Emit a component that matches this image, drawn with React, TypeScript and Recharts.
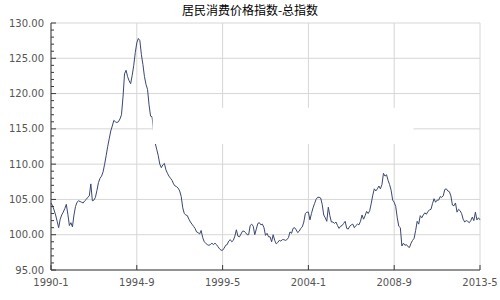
import React from 'react';
import { LineChart, Line, XAxis, YAxis, CartesianGrid, ReferenceArea } from 'recharts';

const chartTitle = '居民消费价格指数-总指数';

// Monthly CPI (same month of previous year = 100), 1990-1 .. 2013-5
const cpi1990s: number[] = [
  104.5, 104.1, 103.5, 102.8, 101.9, 101.0, 102.2, 102.8, 103.2, 103.7, 104.3, 102.9,
  101.3, 101.7, 101.1, 102.8, 104.0, 104.6, 104.8, 104.7, 104.6, 104.5, 104.8, 105.0,
  105.3, 105.5, 107.2, 104.8, 104.9, 105.3, 106.3, 107.4, 108.0, 108.3, 108.9, 110.0,
  111.2, 112.5, 113.6, 114.7, 115.4, 116.2, 116.0, 115.9, 116.0, 116.4, 117.0, 119.5,
  122.8, 123.3, 122.4, 121.8, 121.4, 122.6, 124.0, 125.8, 127.2, 127.8, 127.5, 125.5,
  124.1, 122.4, 121.3, 120.6, 118.4, 116.8, 116.7, 114.5, 113.0, 112.1, 111.2, 110.0,
  109.5, 109.9, 110.1, 109.2, 108.7, 108.3, 108.0, 107.7, 107.2, 106.9, 106.8, 106.6,
  106.2, 105.4, 103.8, 103.0, 102.8, 102.7, 102.2, 101.8, 101.5, 101.2, 100.9, 100.4,
  100.3, 100.1, 100.6, 99.6, 99.0, 98.8, 98.6, 98.5, 98.6, 98.8, 98.6, 98.8,
  98.6, 98.3, 98.0, 97.8, 97.8, 98.1, 98.5, 98.6, 99.1, 99.3, 99.0, 99.2,
];
const cpi2000s: number[] = [
  99.8, 100.7, 99.8, 99.7, 100.1, 100.5, 100.5, 100.3, 100.0, 100.0, 101.3, 101.5,
  101.2, 100.0, 100.8, 101.6, 101.7, 101.4, 101.5, 101.0, 99.9, 100.2, 99.7, 99.7,
  99.0, 100.0, 99.2, 98.7, 98.9, 99.2, 99.1, 99.3, 99.3, 99.2, 99.3, 99.6,
  100.4, 100.2, 100.9, 101.0, 100.7, 100.3, 100.5, 100.9, 101.1, 101.8, 103.0, 103.2,
  103.2, 102.1, 103.0, 103.8, 104.4, 105.0, 105.3, 105.3, 105.2, 104.3, 102.8, 102.4,
  101.9, 103.9, 102.7, 101.8, 101.8, 101.6, 101.8, 101.3, 100.9, 101.2, 101.3, 101.6,
  101.9, 100.9, 100.8, 101.2, 101.4, 101.5, 101.0, 101.3, 101.5, 101.4, 101.9, 102.8,
  102.2, 102.7, 103.3, 103.0, 103.4, 104.4, 105.6, 106.5, 106.2, 106.5, 106.9, 106.5,
  107.1, 108.7, 108.3, 108.5, 107.7, 107.1, 106.3, 104.9, 104.6, 104.0, 102.4, 101.2,
  101.0, 98.4, 98.8, 98.5, 98.6, 98.3, 98.2, 98.8, 99.2, 99.5, 100.6, 101.9,
];
const cpi2010s: number[] = [
  101.5, 102.7, 102.4, 102.8, 103.1, 102.9, 103.3, 103.5, 103.6, 104.4, 105.1, 104.6,
  104.9, 104.9, 105.4, 105.3, 105.5, 106.4, 106.5, 106.2, 106.1, 105.5, 104.2, 104.1,
  104.5, 103.2, 103.6, 103.4, 103.0, 102.2, 101.8, 102.0, 101.9, 101.7, 102.0, 102.5,
  102.0, 103.2, 102.1, 102.4, 102.1,
];

const xTickLabels = ['1990-1', '1994-9', '1999-5', '2004-1', '2008-9', '2013-5'];
const yMajorTicks = [95, 100, 105, 110, 115, 120, 125, 130];

const startYear = 1990;
const labelToIndex = (s: string) => {
  const [y, m] = s.split('-').map(Number);
  return (y - startYear) * 12 + (m - 1);
};
const xTicks = xTickLabels.map(labelToIndex);

const allValues = [...cpi1990s, ...cpi2000s, ...cpi2010s];
const data = allValues.map((v, i) => ({ i, v }));

const yAllTicks: number[] = [];
for (let t = 95; t <= 130; t++) yAllTicks.push(t);

const AXIS_COLOR = '#3a3a3a';
const LABEL_COLOR = '#555';
const FONT = '"DejaVu Sans", Verdana, sans-serif';

const XTick = (props: any) => {
  const { x, y, payload } = props;
  const idx = xTicks.indexOf(payload.value);
  return (
    <g>
      <line x1={x} y1={y} x2={x} y2={y - 5} stroke={AXIS_COLOR} strokeWidth={1} />
      <text x={x} y={y + 16} textAnchor="middle" fontSize={10} fontFamily={FONT} fill={LABEL_COLOR}>
        {idx >= 0 ? xTickLabels[idx] : ''}
      </text>
    </g>
  );
};

const YTick = (props: any) => {
  const { x, y, payload } = props;
  const v = payload.value as number;
  const major = yMajorTicks.includes(v);
  return (
    <g>
      <line x1={x} y1={y} x2={x + (major ? 5 : 3)} y2={y} stroke={AXIS_COLOR} strokeWidth={1} />
      {major ? (
        <text x={x - 7} y={y} dy="0.36em" textAnchor="end" fontSize={10} fontFamily={FONT} fill={LABEL_COLOR}>
          {v.toFixed(2)}
        </text>
      ) : null}
    </g>
  );
};

export default function App() {
  return (
    <div style={{ position: 'absolute', left: 0, top: 0, width: 500, height: 300, background: '#fff' }}>
      <div
        style={{
          position: 'absolute',
          top: 4,
          left: 0,
          width: 500,
          textAlign: 'center',
          fontSize: 12,
          lineHeight: '12px',
          fontFamily: '"Noto Sans CJK SC", sans-serif',
          color: '#000',
        }}
      >
        {chartTitle}
      </div>
      <LineChart width={500} height={300} data={data} margin={{ top: 23, right: 20, bottom: 0, left: 0 }}>
        <CartesianGrid
          stroke="#d6d6d6"
          horizontalValues={yMajorTicks}
          verticalValues={xTicks}
        />
        <XAxis
          dataKey="i"
          type="number"
          domain={[0, 280]}
          ticks={xTicks}
          interval={0}
          tickSize={0}
          tickMargin={0}
          height={30}
          axisLine={{ stroke: AXIS_COLOR }}
          tickLine={false}
          tick={XTick}
        />
        <YAxis
          type="number"
          domain={[95, 130]}
          ticks={yAllTicks}
          interval={0}
          tickSize={0}
          tickMargin={0}
          width={51}
          axisLine={{ stroke: AXIS_COLOR }}
          tickLine={false}
          tick={YTick}
        />
        <Line
          type="linear"
          dataKey="v"
          stroke="#3b4770"
          strokeWidth={1}
          dot={false}
          isAnimationActive={false}
        />
        <ReferenceArea
          x1={66.3}
          x2={236.6}
          y1={112.85}
          y2={118}
          fill="#ffffff"
          fillOpacity={1}
          stroke="none"
          ifOverflow="visible"
          {...({ zIndex: 450 } as any)}
        />
      </LineChart>
    </div>
  );
}
